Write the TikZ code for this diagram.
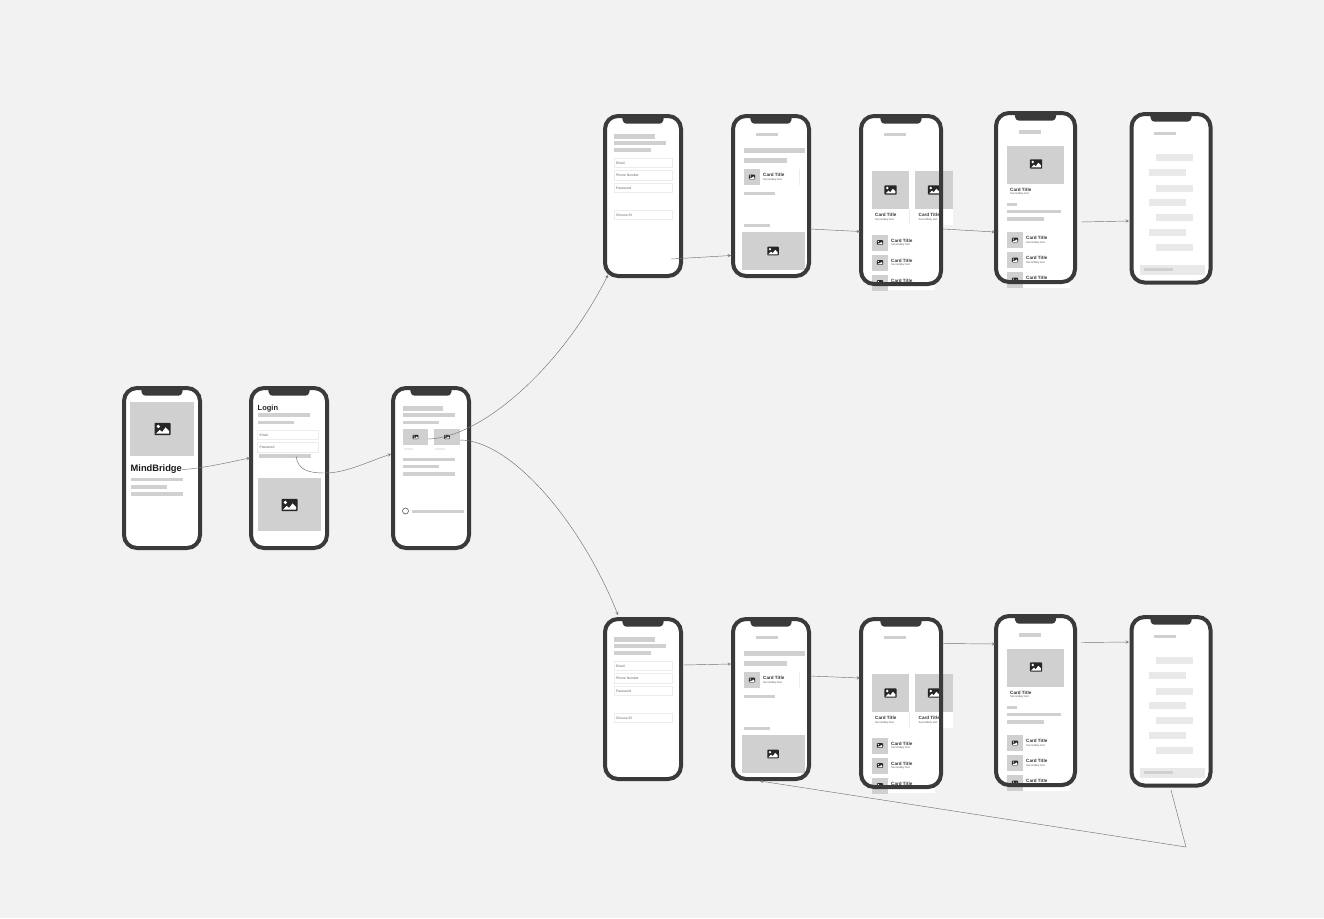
\documentclass[tikz,border=0pt]{standalone}
\usepackage{fontspec}
\setmainfont{Liberation Sans}
\usetikzlibrary{arrows}
\definecolor{paper}{HTML}{F2F2F2}
\definecolor{shell}{HTML}{3A3A3A}
\definecolor{skel}{HTML}{D0D0D0}
\definecolor{pale}{HTML}{E9E9E9}
\definecolor{rule}{HTML}{ECECEC}
\tikzset{big/.style={font=\fontsize{9.3}{9.3}\selectfont\bfseries,anchor=west,inner sep=0pt,text=black!90}}
\tikzset{l/.style={font=\fontsize{7.5}{7.5}\selectfont\bfseries,anchor=west,inner sep=0pt,text=black!85}}
\tikzset{ct/.style={font=\fontsize{4.6}{4.6}\selectfont\bfseries,anchor=west,inner sep=0pt,text=black!80}}
\tikzset{st/.style={font=\fontsize{2.8}{2.8}\selectfont,anchor=west,inner sep=0pt,text=black!65}}
\tikzset{m/.style={font=\fontsize{3.4}{3.4}\selectfont,anchor=west,inner sep=0pt,text=black!60}}
\tikzset{skelbar/.style={fill=skel}}
\tikzset{palebar/.style={fill=pale}}
\tikzset{fieldbox/.style={draw=rule,line width=.5pt,fill=white}}
\tikzset{shellback/.style={fill=white,rounded corners=13pt,inner sep=0pt,outer sep=0pt}}
\tikzset{shelline/.style={draw=shell,line width=4pt,rounded corners=13pt}}
\tikzset{link/.style={draw=black!55,line width=.45pt,->,>=stealth}}
% phone body, drawn before the screen
\newcommand{\phoneback}[2]{
  \node[shellback,minimum width={(#1-4)*1pt},minimum height={(#2-4)*1pt}] (shell) at ({#1/2},{#2/2}) {};
}
% rim and notch, drawn after the screen
\newcommand{\phonefront}[2]{
  \draw[shelline] (2,2) rectangle ({#1-2},{#2-2});
  \fill[shell,rounded corners=3.5pt] ({#1/2-21},1) -- ({#1/2-20},9.7) -- ({#1/2+20},9.7) -- ({#1/2+21},1) -- cycle;
}
\newcommand{\imgicon}[3]{
  \begin{scope}[shift={(#1,#2)},scale=#3]
    \fill[black!85,rounded corners=.8pt] (-8,-6.2) rectangle (8,6.2);
    \fill[white] (-4.2,-2.6) circle (1.8);
    \fill[white] (-6.5,4.6) -- (-2.8,.8) -- (-.4,3) -- (3,-1.6) -- (6.5,1.8) -- (6.5,4.6) -- cycle;
  \end{scope}
}
\newcommand{\inputbox}[5]{
  \draw[fieldbox] (#2,#3) rectangle ++(#4,9.7);
  \node[m] (#1) at (#2+1.8,#3+4.8) {#5};
}
\newcommand{\cardline}[4]{
  \node[ct] (#1title) at (#2,#3+.7) {Card Title};
  \node[st] (#1text) at (#2,#4+.3) {Secondary text};
}
\newcommand{\listrow}[3]{
  \fill[skelbar] (#2,#3) rectangle ++(16,16);
  \imgicon{#2+8}{#3+8}{.38}
  \cardline{#1}{#2+19}{#3+5.4}{#3+10.2}
}
\newcommand{\formscreen}{
  \phoneback{80}{164}
  \fill[skelbar] (11,19.5) rectangle ++(41,5);
  \fill[skelbar] (11,27) rectangle ++(52,3.6);
  \fill[skelbar] (11,34) rectangle ++(37,3.6);
  \inputbox{email}{11}{44}{58}{Email}
  \inputbox{phone}{11}{56.5}{58}{Phone Number}
  \inputbox{pass}{11}{69}{58}{Password}
  \inputbox{pick}{11}{96}{58}{Choose ID}
  \phonefront{80}{164}
}
\newcommand{\offerscreen}{
  \phoneback{80}{164}
  \fill[skelbar] (25,18.7) rectangle ++(21.5,3.4);
  \fill[skelbar] (13,34) rectangle ++(61,5);
  \fill[skelbar] (13,44) rectangle ++(43,5);
  \listrow{card}{13}{169-114}
  \draw[rule,line width=.5pt] (68,55) -- (68,71);
  \fill[skelbar] (13,77.5) rectangle ++(31,3.4);
  \fill[skelbar] (13,110) rectangle ++(26,3.4);
  \fill[skelbar] (10.5,118) rectangle (74,156);
  \imgicon{42}{137}{.72}
  \phonefront{80}{164}
}
\newcommand{\pickscreen}{
  \fill[white] (13,95) rectangle (76,172);
  \fill[white] (50,95) rectangle (94,111);
  \phoneback{84}{172}
  \fill[white] (50,95) rectangle (94,111);
  \fill[skelbar] (25,18.7) rectangle ++(21.5,3.4);
  \fill[skelbar] (13,57) rectangle (50,95);
  \fill[skelbar] (56,57) rectangle (94,95);
  \imgicon{31.5}{76}{.76}
  \imgicon{75}{76}{.76}
  \cardline{one}{16}{100.3}{105}
  \cardline{two}{59.5}{100.3}{105}
  \draw[rule,line width=.5pt] (50.5,95) -- (50.5,110);
  \fill[white] (13,172) rectangle (76,176);
  \listrow{rowa}{13}{120.5}
  \listrow{rowb}{13}{140.5}
  \listrow{rowc}{13}{160.5}
  \phonefront{84}{172}
}
\newcommand{\detailscreen}{
  \fill[white] (13,172) rectangle (76,177);
  \phoneback{83}{173}
  \fill[skelbar] (25,19.3) rectangle ++(22,3.4);
  \fill[skelbar] (13,34.5) rectangle (70,72.5);
  \imgicon{42}{53}{.76}
  \cardline{hero}{16}{78}{82.4}
  \fill[skelbar] (13,91.5) rectangle ++(9.5,3.6);
  \fill[skelbar] (13,98.5) rectangle ++(54,3.8);
  \fill[skelbar] (13,106) rectangle ++(37,3.8);
  \listrow{rowa}{13}{121}
  \listrow{rowb}{13}{141}
  \listrow{rowc}{13}{161}
  \phonefront{83}{173}
}
\newcommand{\chatscreen}{
  \phoneback{83}{172.5}
  \fill[skel] (24.5,19.7) rectangle ++(22,3.2);
  \foreach \ya/\xa in {42/26.5,57/19.5,72.5/26.5,87/19.5,102/26.5,117/19.5,132/26.5}
    \fill[palebar] (\xa,\ya) rectangle ++(37,7.4);
  \fill[palebar] (10.5,152.5) rectangle ++(65,10);
  \fill[skel] (14.5,155.5) rectangle ++(29,3.6);
  \phonefront{83}{172.5}
}
\begin{document}
\begin{tikzpicture}[x=1pt,y=-1pt]
  \fill[paper] (0,0) rectangle (1324,918);
  \useasboundingbox (0,0) rectangle (1324,918);
  % first column
  \begin{scope}[shift={(122,386)},name prefix=mind-]
    \phoneback{80}{164}
    \fill[skelbar] (8,16) rectangle (72,70);
    \imgicon{40.5}{43}{1}
    \node[big] (title) at (8.5,83.6) {MindBridge};
    \fill[skelbar] (8.5,91.5) rectangle ++(52,3.6);
    \fill[skelbar] (8.5,99) rectangle ++(36,3.6);
    \fill[skelbar] (8.5,106) rectangle ++(52,3.6);
    \phonefront{80}{164}
  \end{scope}
  \begin{scope}[shift={(249,386)},name prefix=login-]
    \phoneback{80}{164}
    \node[l] (title) at (8.5,22.6) {Login};
    \fill[skelbar] (8.5,27) rectangle ++(52,3.6);
    \fill[skelbar] (8.5,34.5) rectangle ++(36,3.6);
    \inputbox{email}{8.5}{44}{60.5}{Email}
    \inputbox{pass}{8.5}{56.5}{60.5}{Password}
    \fill[skelbar] (10,68) rectangle ++(52,3.6);
    \fill[skelbar] (9,92) rectangle ++(63,53);
    \imgicon{40.5}{119}{1}
    \phonefront{80}{164}
  \end{scope}
  \begin{scope}[shift={(391,386)},name prefix=home-]
    \phoneback{80}{164}
    \fill[skelbar] (11.5,19.5) rectangle ++(40.5,5);
    \fill[skelbar] (11.5,27) rectangle ++(52,3.6);
    \fill[skelbar] (11.5,34.5) rectangle ++(36,3.6);
    \fill[skelbar] (11.5,43) rectangle ++(25.5,16);
    \fill[skelbar] (43,43) rectangle ++(26,16);
    \imgicon{24.5}{51}{.36}
    \imgicon{56}{51}{.36}
    \fill[rule] (12.5,61.5) rectangle ++(9.5,2.6);
    \fill[rule] (44,61.5) rectangle ++(9.5,2.6);
    \fill[skelbar] (11.5,71.5) rectangle ++(52,3.6);
    \fill[skelbar] (11.5,78.5) rectangle ++(36,3.6);
    \fill[skelbar] (11.5,86) rectangle ++(52,3.6);
    \draw[black!65,line width=.6pt,fill=white] (14.5,125) circle (3);
    \fill[skelbar] (21,123.7) rectangle ++(52,3.6);
    \phonefront{80}{164}
  \end{scope}
  % upper row
  \begin{scope}[shift={(603,114)},name prefix=topa-]
    \formscreen
  \end{scope}
  \begin{scope}[shift={(731,114)},name prefix=topb-]
    \offerscreen
  \end{scope}
  \begin{scope}[shift={(859,114)},name prefix=topc-]
    \pickscreen
  \end{scope}
  \begin{scope}[shift={(994,111)},name prefix=topd-]
    \detailscreen
  \end{scope}
  \begin{scope}[shift={(1129.5,112)},name prefix=tope-]
    \chatscreen
  \end{scope}
  % lower row
  \begin{scope}[shift={(603,617)},name prefix=lowa-]
    \formscreen
  \end{scope}
  \begin{scope}[shift={(731,617)},name prefix=lowb-]
    \offerscreen
  \end{scope}
  \begin{scope}[shift={(859,617)},name prefix=lowc-]
    \pickscreen
  \end{scope}
  \begin{scope}[shift={(994,614)},name prefix=lowd-]
    \detailscreen
  \end{scope}
  \begin{scope}[shift={(1129.5,615)},name prefix=lowe-]
    \chatscreen
  \end{scope}
  % connector ends
  \coordinate (loginin) at (250,458);
  \coordinate (loginout) at (296,456);
  \coordinate (homein) at (391,454);
  \coordinate (homeup) at (428,439);
  \coordinate (homedown) at (460,440);
  \coordinate (topain) at (608,275);
  \coordinate (topaout) at (671,259);
  \coordinate (topbin) at (731,255.5);
  \coordinate (topbout) at (810,229);
  \coordinate (topcin) at (860,231.5);
  \coordinate (topcout) at (943,229);
  \coordinate (topdin) at (995,232);
  \coordinate (topdout) at (1081,222);
  \coordinate (topein) at (1129,221);
  \coordinate (lowain) at (618,615);
  \coordinate (lowaout) at (683,665);
  \coordinate (lowbin) at (731,664);
  \coordinate (lowbout) at (810,676);
  \coordinate (lowcin) at (860,678);
  \coordinate (lowcout) at (943,643.5);
  \coordinate (lowdin) at (995,644);
  \coordinate (lowdout) at (1081,642.5);
  \coordinate (lowein) at (1129,642);
  \coordinate (loweout) at (1171,790);
  \coordinate (turn) at (1186,847);
  \coordinate (lowback) at (760,781);
  % connectors
  \draw[link] (mind-title.east) .. controls (205,468) and (225,463) .. (loginin);
  \draw[link] (loginout) .. controls (298,470) and (308,473) .. (325,473)
    .. controls (345,473) and (365,463) .. (homein);
  \draw[link] (homeup) .. controls (480,438) and (560,370) .. (topain);
  \draw[link] (homedown) .. controls (510,440) and (580,520) .. (lowain);
  \draw[link] (topaout) -- (topbin);
  \draw[link] (topbout) -- (topcin);
  \draw[link] (topcout) -- (topdin);
  \draw[link] (topdout) -- (topein);
  \draw[link] (lowaout) -- (lowbin);
  \draw[link] (lowbout) -- (lowcin);
  \draw[link] (lowcout) -- (lowdin);
  \draw[link] (lowdout) -- (lowein);
  \draw[link] (loweout) -- (turn) -- (lowback);
\end{tikzpicture}
\end{document}
